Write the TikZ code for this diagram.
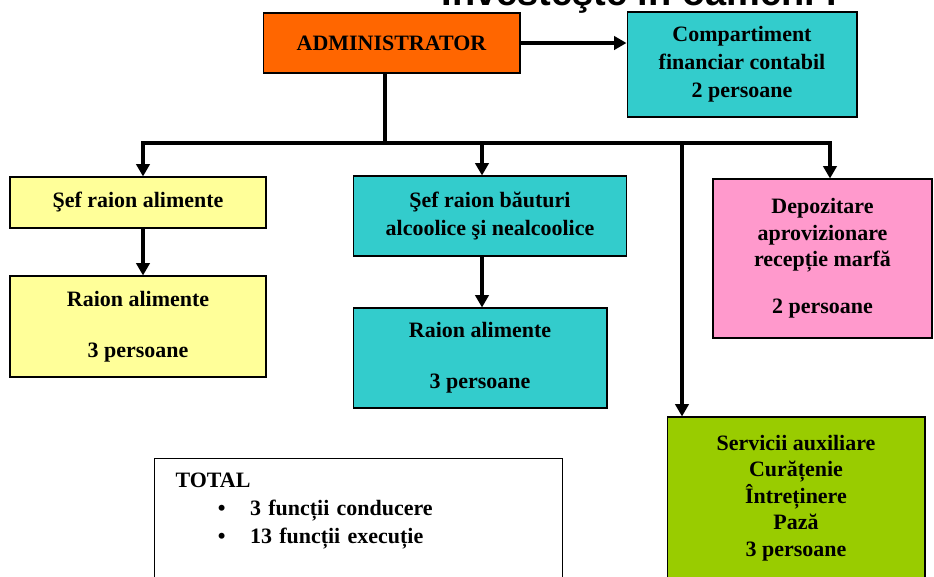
\documentclass[tikz,border=0pt]{standalone}
\usepackage{fontspec}
\setmainfont{Liberation Serif}
\newfontfamily\titlufont{Liberation Sans}
\usepackage{tikz}
\usetikzlibrary{arrows.meta, positioning, calc}
\definecolor{myorange}{RGB}{255,102,0}
\definecolor{myteal}{RGB}{51,204,204}
\definecolor{myyellow}{RGB}{255,255,153}
\definecolor{mypink}{RGB}{255,153,204}
\definecolor{mygreen}{RGB}{153,204,0}
\newcommand{\boxfont}{\bfseries\fontsize{12.5}{15}\selectfont}
\newcommand{\widefont}{\bfseries\fontsize{12.5}{16}\selectfont}
\tikzset{
  box/.style={rectangle, draw=black, line width=0.6pt, align=center,
    inner sep=2pt, font=\boxfont},
  orgbox/.style={box, fill=myorange},
  tealbox/.style={box, fill=myteal},
  yelbox/.style={box, fill=myyellow},
  pinkbox/.style={box, fill=mypink},
  greenbox/.style={box, fill=mygreen},
  totalbox/.style={box, fill=white, align=left, inner xsep=12pt,
    inner ysep=8pt, font=\widefont},
  arrow/.style={-{Triangle[length=7pt, width=7.5pt]}, line width=1.9pt, color=black},
  line/.style={line width=1.9pt, color=black, line cap=rect}
}

\begin{document}
\begin{tikzpicture}[x=0.02cm, y=-0.02cm]
  \useasboundingbox (0,0) rectangle (934,576);
  \clip (0,0) rectangle (934,576);

  % Title (cut at the top)
  \node[anchor=base, inner sep=0pt, font=\titlufont\bfseries\fontsize{21.6}{24}\selectfont]
    (titlu) at (640,5) {Investeşte în oameni !};

  % Top level
  \node[orgbox, minimum width=5.14cm, minimum height=1.2cm] (admin) at (391.5,43) {ADMINISTRATOR};
  \node[tealbox, font=\widefont, minimum width=4.6cm, minimum height=2.1cm] (comp) at (742,64.5)
    {Compartiment\\financiar contabil\\2 persoane};

  % Departments
  \node[yelbox, minimum width=5.12cm, minimum height=1.02cm] (sefAl) at (138,202.5) {Şef raion alimente};
  \node[yelbox, minimum width=5.12cm, minimum height=2.02cm] (raionAl) at (138,326.5)
    {Raion alimente\\[14pt]3 persoane};
  \node[tealbox, font=\widefont, minimum width=5.46cm, minimum height=1.6cm] (sefBa) at (490,216)
    {Şef raion băuturi\\alcoolice şi nealcoolice};
  \node[tealbox, minimum width=5.08cm, minimum height=2.0cm] (raionBa) at (480,358)
    {Raion alimente\\[14pt]3 persoane};
  \node[pinkbox, minimum width=4.38cm, minimum height=3.18cm] (depo) at (822.5,258.5)
    {Depozitare\\aprovizionare\\recepție marfă\\[12pt]2 persoane};
  \node[greenbox, minimum width=5.16cm, minimum height=3.24cm] (serv) at (796,498)
    {Servicii auxiliare\\Curățenie\\Întreținere\\Pază\\3 persoane};

  % Total
  \node[totalbox, anchor=north west, text width=7.31cm, text depth=3cm] (total) at (154,458)
    {TOTAL\\
     \hspace*{24pt}\textbullet\hspace{14pt}3 funcții conducere\\
     \hspace*{24pt}\textbullet\hspace{14pt}13 funcții execuție};

  % Bus
  \coordinate (bus) at (385,143);
  \coordinate (busL) at (143,143);
  \coordinate (busM) at (482,143);
  \coordinate (busS) at (682,143);
  \coordinate (busR) at (830,143);
  \draw[line] (admin.south -| bus) -- (bus);
  \draw[line] (busL) -- (busR);

  % Arrows
  \draw[arrow] (admin.east) -- (admin.east -| comp.west);
  \draw[arrow] (busL) -- (sefAl.north -| busL);
  \draw[arrow] (busM) -- (sefBa.north -| busM);
  \draw[arrow] (busS) -- (serv.north -| busS);
  \draw[arrow] (busR) -- (depo.north -| busR);
  \draw[arrow] (sefAl.south -| busL) -- (raionAl.north -| busL);
  \draw[arrow] (sefBa.south -| busM) -- (raionBa.north -| busM);
\end{tikzpicture}
\end{document}
